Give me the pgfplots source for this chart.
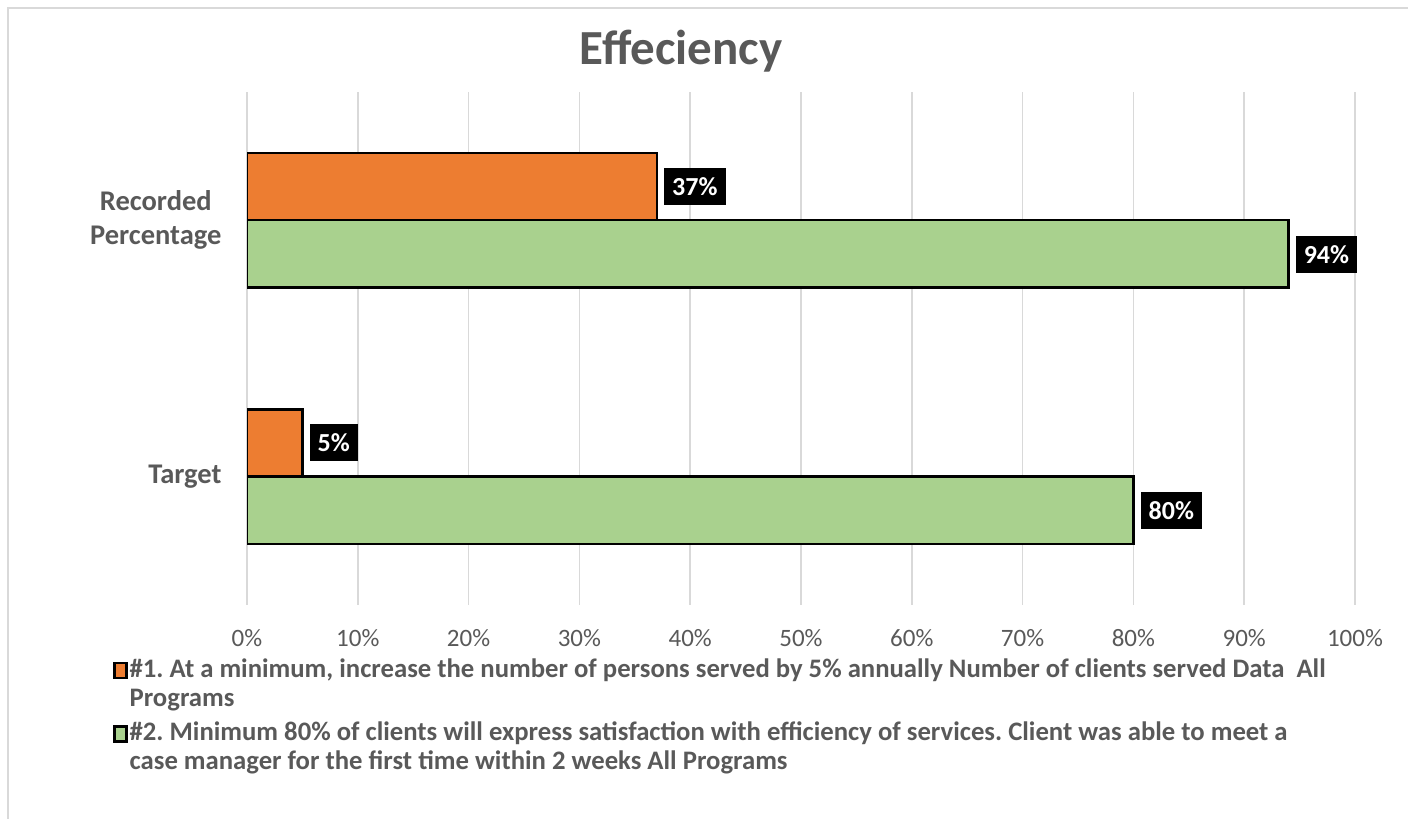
\documentclass[border=0pt]{standalone}
\usepackage{pgfplots}
\pgfplotsset{compat=1.18}
\usepackage{fontspec}
\setmainfont{Carlito}
\frenchspacing
\definecolor{c1}{HTML}{ED7D31}
\definecolor{c2}{HTML}{A9D18E}
\definecolor{txt}{HTML}{595959}
\definecolor{gridc}{HTML}{D9D9D9}
\begin{document}
\begin{tikzpicture}
\path[use as bounding box] (0pt,0pt) rectangle (1408pt,819pt);
\draw[gridc, line width=2pt] (8pt,0pt) -- (8pt,811pt) -- (1408pt,811pt);
\node[anchor=base, font=\fontsize{49}{55}\selectfont\bfseries, text=txt] at (681pt,754pt) {Effeciency};
\begin{axis}[
  at={(247pt,214pt)}, anchor=south west,
  scale only axis, width=1108pt, height=513pt,
  xbar, bar width=0.262,
  xmin=0, xmax=100, ymin=-0.5, ymax=1.5,
  axis line style={draw=none},
  major tick length=0pt,
  xtick={0,10,...,100}, ytick={0,1},
  xmajorgrids, grid style={gridc, line width=1.5pt},
  xticklabel={\pgfmathprintnumber[assume math mode=true]{\tick}\%},
  xticklabel style={font=\fontsize{25}{28}\selectfont, text=txt, yshift=-21pt},
  yticklabels={Target, {Recorded\\Percentage}},
  yticklabel style={font=\fontsize{28.5}{34}\selectfont\bfseries, text=txt, align=center, xshift=-22pt},
  point meta=x,
  nodes near coords={\pgfmathprintnumber[assume math mode=true]{\pgfplotspointmeta}\%},
  every node near coord/.style={font=\fontsize{26}{28}\selectfont\bfseries, fill=black, draw=none, text=white, inner xsep=8pt, inner ysep=0pt, minimum height=37pt, anchor=west, xshift=6pt},
  legend image code/.code={\draw[#1, line width=2.5pt, sharp corners] (0pt,5pt) rectangle (12pt,20pt);},
  legend style={draw=none, fill=none, at={(-0.121,-0.1)}, anchor=north west, legend cell align=left,
    font=\fontsize{26.7}{29}\selectfont\bfseries, text=txt, row sep=10pt, inner sep=0pt,
    nodes={align=left, inner sep=2pt}},
]
\addplot[fill=c1, draw=black, line width=2.5pt, bar shift=0.131,
  every node near coord/.append style={yshift=34pt}] coordinates {(5,0) (37,1)};
\addlegendentry{\#1. At a minimum, increase the number of persons served by 5\% annually Number of clients served Data\ \ All\\Programs}
\addplot[fill=c2, draw=black, line width=2.5pt, bar shift=-0.131,
  every node near coord/.append style={yshift=-34pt}] coordinates {(80,0) (94,1)};
\addlegendentry{\#2. Minimum 80\% of clients will express satisfaction with efficiency of services. Client was able to meet a\\case manager for the first time within 2 weeks All Programs}
\end{axis}
\end{tikzpicture}
\end{document}
